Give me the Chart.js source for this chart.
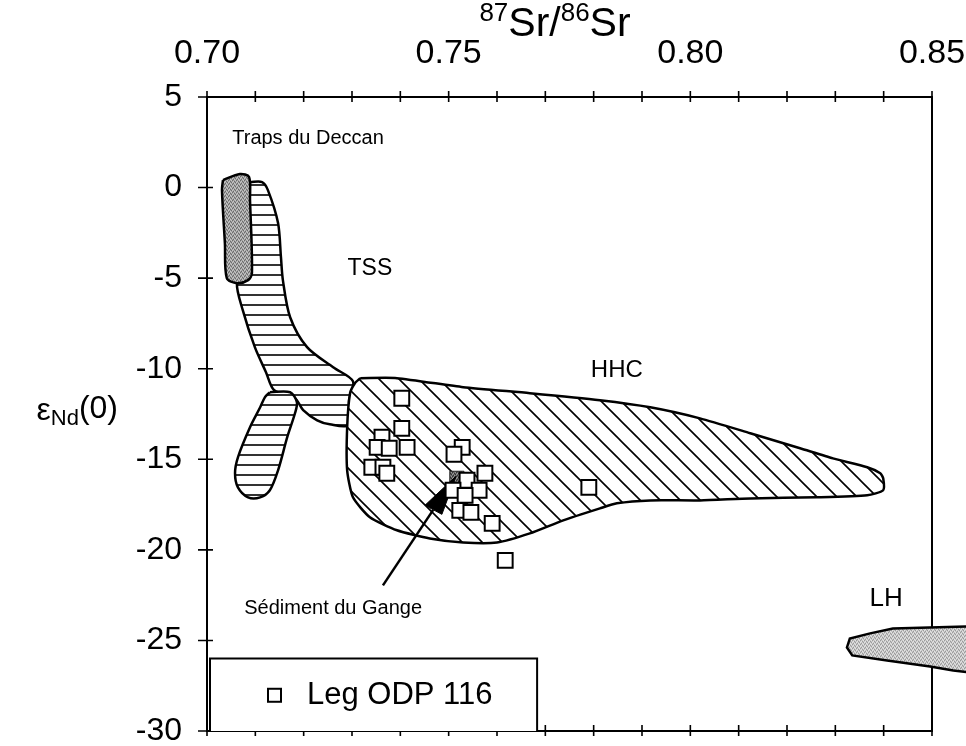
<html>
<head>
<meta charset="utf-8">
<title>Sr-Nd isotopes</title>
<script src="https://cdn.jsdelivr.net/npm/chart.js"></script>
<style>
  body { margin: 0; background: #fff; }
</style>
</head>
<body>
<canvas id="chart" width="966" height="746"></canvas>
<script>
const FONT = "'Liberation Sans', Arial, Helvetica, sans-serif";

// axes
const xMin = 0.70, xMax = 0.85, xMinorStep = 0.01;
const yMin = -30, yMax = 5;
const xTickLabels = [0.70, 0.75, 0.80, 0.85];
const yTickLabels = [5, 0, -5, -10, -15, -20, -25, -30];

// Leg ODP 116 samples
const odpSr = [0.7403, 0.7403, 0.7362, 0.7352, 0.7377, 0.7414, 0.7341, 0.7364, 0.7372,
               0.7528, 0.7511, 0.7575, 0.7538, 0.7563, 0.7509, 0.7534, 0.7523, 0.7546,
               0.7590, 0.7617, 0.7790];
const odpNd = [-11.63, -13.29, -13.78, -14.34, -14.39, -14.34, -15.44, -15.44, -15.77,
               -14.34, -14.72, -15.77, -16.16, -16.71, -16.71, -16.99, -17.82, -17.93,
               -18.54, -20.58, -16.55];

// Ganges sediment
const gangeSr = [0.7517];
const gangeNd = [-16.05];

// fields (outlines)
const deccanSr = [0.7033, 0.7068, 0.7087, 0.7089, 0.7093, 0.7085, 0.7062, 0.7041, 0.7037, 0.7031];
const deccanNd = [0.41, 0.75, 0.58, -0.69, -4.72, -5.11, -5.28, -5.00, -3.07, -0.14];

const tssSr = [0.7089, 0.7114, 0.7126, 0.7147, 0.7153, 0.7157, 0.7172, 0.7207, 0.7261, 0.7302,
               0.7294, 0.7292, 0.7254, 0.7228, 0.7199, 0.7182, 0.7139, 0.7122, 0.7099, 0.7074,
               0.7062, 0.7081, 0.7087];
const tssNd = [0.30, 0.30, -0.14, -1.96, -3.84, -5.11, -7.16, -8.81, -9.92, -10.69,
               -11.74, -13.12, -13.07, -12.85, -12.29, -11.63, -11.19, -10.19, -8.81, -6.77,
               -5.28, -4.56, -0.69];

const tssLobeSr = [0.7130, 0.7172, 0.7186, 0.7182, 0.7166, 0.7147, 0.7130, 0.7110, 0.7085,
                   0.7064, 0.7058, 0.7064, 0.7089, 0.7110, 0.7120];
const tssLobeNd = [-11.30, -11.30, -11.85, -12.46, -13.78, -15.61, -16.71, -17.10, -17.10,
                   -16.55, -15.77, -14.89, -13.23, -12.13, -11.57];

const hhcSr = [0.7317, 0.7393, 0.7530, 0.7668, 0.7813, 0.7917, 0.8020, 0.8124, 0.8227, 0.8295,
               0.8366, 0.8393, 0.8399, 0.8399, 0.8366, 0.8262, 0.8124, 0.8020, 0.7917, 0.7848,
               0.7813, 0.7737, 0.7668, 0.7600, 0.7530, 0.7461, 0.7393, 0.7337, 0.7302, 0.7290,
               0.7290, 0.7296, 0.7306];
const hhcNd = [-10.52, -10.52, -11.02, -11.35, -11.74, -12.13, -12.74, -13.56, -14.39, -14.95,
               -15.44, -15.77, -16.05, -16.71, -16.99, -17.10, -17.16, -17.27, -17.27, -17.43,
               -17.71, -18.37, -19.09, -19.59, -19.59, -19.37, -18.92, -18.20, -17.10, -15.61,
               -13.23, -11.35, -10.80];

const lhSr = [0.8372, 0.8419, 0.8577, 0.8577, 0.8544, 0.8496, 0.8407, 0.8335, 0.8324, 0.8330];
const lhNd = [-24.61, -24.34, -24.23, -26.77, -26.66, -26.44, -26.11, -25.83, -25.39, -24.89];

// arrow to the Ganges sediment
const arrowSr = [0.7364, 0.7468];
const arrowNd = [-21.96, -17.79];
const arrowHeadSr = [0.7515, 0.7451, 0.7486];
const arrowHeadNd = [-15.94, -17.54, -18.04];

// text labels
const fieldNames = ['Traps du Deccan', 'TSS', 'HHC', 'Sédiment du Gange', 'LH'];
const fieldNameSr = [0.7209, 0.7337, 0.7848, 0.7261, 0.8405];
const fieldNameNd = [2.73, -4.45, -10.08, -23.23, -22.68];
const fieldNameSize = [20, 23, 24, 20, 26];
const legendLabel = 'Leg ODP 116';

function pts(xs, ys, close) {
  const p = xs.map((v, i) => ({x: v, y: ys[i]}));
  if (close) p.push({x: xs[0], y: ys[0]});
  return p;
}

function hatch(kind) {
  const s = kind === 'h' ? 10 : 20;
  const c = document.createElement('canvas');
  c.width = s; c.height = s;
  const g = c.getContext('2d');
  g.fillStyle = '#fff'; g.fillRect(0, 0, s, s);
  g.strokeStyle = '#000'; g.lineWidth = 1.6;
  g.beginPath();
  if (kind === 'h') {
    g.moveTo(0, 5); g.lineTo(s, 5);
  } else {
    g.moveTo(-2, -2); g.lineTo(s + 2, s + 2);
    g.moveTo(-2, s - 2); g.lineTo(2, s + 2);
    g.moveTo(s - 2, -2); g.lineTo(s + 2, 2);
  }
  g.stroke();
  return g.createPattern(c, 'repeat');
}

function stipple(base, dark, light) {
  const c = document.createElement('canvas');
  c.width = 4; c.height = 4;
  const g = c.getContext('2d');
  g.fillStyle = base; g.fillRect(0, 0, 4, 4);
  g.fillStyle = dark;
  [[0, 0], [2, 1], [1, 3], [3, 2]].forEach(([i, j]) => g.fillRect(i, j, 1, 1));
  g.fillStyle = light;
  [[1, 1], [3, 0], [0, 2], [2, 3]].forEach(([i, j]) => g.fillRect(i, j, 1, 1));
  return g.createPattern(c, 'repeat');
}

const hPattern = hatch('h');
const dPattern = hatch('d');
const deccanFill = stipple('#a0a0a0', '#6a6a6a', '#c8c8c8');
const lhFill = stipple('#c6c6c6', '#9a9a9a', '#e4e4e4');
const gangeFill = stipple('#666', '#333', '#999');

function field(data, fill, order, tension) {
  return {
    data: data, showLine: true, fill: 'shape', backgroundColor: fill,
    borderColor: '#000', borderWidth: 2.5, pointRadius: 0, tension: tension, order: order
  };
}

// fill drawn by hand for LH so it can run past the frame
const outsideFill = {
  id: 'outsideFill',
  beforeDatasetDraw(chart, args) {
    const ds = chart.data.datasets[args.index];
    if (!ds.outsideFill) return;
    const ctx = chart.ctx;
    ctx.save();
    ctx.beginPath();
    args.meta.dataset.path(ctx);
    ctx.closePath();
    ctx.fillStyle = ds.outsideFill;
    ctx.fill();
    ctx.restore();
  }
};

const decor = {
  id: 'decor',
  beforeDatasetsDraw(chart) {
    const {ctx, chartArea: a, scales: {x, y}} = chart;
    ctx.save();
    ctx.strokeStyle = '#000';
    ctx.lineWidth = 2;
    ctx.strokeRect(a.left, a.top, a.right - a.left, a.bottom - a.top);
    ctx.lineWidth = 1.6;
    ctx.beginPath();
    const n = Math.round((xMax - xMin) / xMinorStep);
    for (let i = 0; i <= n; i++) {
      const px = x.getPixelForValue(xMin + i * xMinorStep);
      ctx.moveTo(px, a.top - 6); ctx.lineTo(px, a.top + 5);
      ctx.moveTo(px, a.bottom - 6); ctx.lineTo(px, a.bottom + 5);
    }
    yTickLabels.forEach(v => {
      const py = y.getPixelForValue(v);
      ctx.moveTo(a.left - 9, py); ctx.lineTo(a.left + 6, py);
    });
    ctx.stroke();
    ctx.restore();
  },
  afterDatasetsDraw(chart) {
    const {ctx, chartArea: a, scales: {x, y}} = chart;
    ctx.save();
    ctx.fillStyle = '#000';
    ctx.textAlign = 'center';
    ctx.textBaseline = 'middle';
    fieldNames.forEach((t, i) => {
      ctx.font = fieldNameSize[i] + 'px ' + FONT;
      ctx.fillText(t, x.getPixelForValue(fieldNameSr[i]), y.getPixelForValue(fieldNameNd[i]));
    });

    // legend box
    const bx = a.left + 3, by = y.getPixelForValue(-26.0), bw = x.getPixelForValue(0.7683) - bx;
    ctx.fillStyle = '#fff';
    ctx.fillRect(bx, by, bw, a.bottom - by);
    ctx.strokeStyle = '#000';
    ctx.lineWidth = 2;
    ctx.beginPath();
    ctx.moveTo(bx, a.bottom); ctx.lineTo(bx, by); ctx.lineTo(bx + bw, by); ctx.lineTo(bx + bw, a.bottom);
    ctx.stroke();
    const my = (by + a.bottom) / 2;
    ctx.strokeRect(bx + 58, my - 6, 13, 13);
    ctx.fillStyle = '#000';
    ctx.font = '31px ' + FONT;
    ctx.textAlign = 'left';
    ctx.fillText(legendLabel, bx + 97, my + 1);

    // x title 87Sr/86Sr
    ctx.textBaseline = 'alphabetic';
    const parts = [['87', 26, 21], ['Sr/', 41, 36], ['86', 26, 21], ['Sr', 41, 36]];
    let w = 0;
    parts.forEach(p => { ctx.font = p[1] + 'px ' + FONT; w += ctx.measureText(p[0]).width; });
    let cx = 555 - w / 2;
    parts.forEach(p => {
      ctx.font = p[1] + 'px ' + FONT;
      ctx.fillText(p[0], cx, p[2]);
      cx += ctx.measureText(p[0]).width;
    });

    // y title eNd(0), right edge at x=118
    const yParts = [['\u03B5', 32, 420], ['Nd', 22, 425], ['(0)', 32, 418]];
    w = 0;
    yParts.forEach(p => { ctx.font = p[1] + 'px ' + FONT; w += ctx.measureText(p[0]).width; });
    cx = 118 - w;
    yParts.forEach(p => {
      ctx.font = p[1] + 'px ' + FONT;
      ctx.fillText(p[0], cx, p[2]);
      cx += ctx.measureText(p[0]).width;
    });
    ctx.restore();
  }
};

new Chart(document.getElementById('chart'), {
  type: 'scatter',
  data: {
    datasets: [
      { data: pts(odpSr, odpNd), pointStyle: 'rect', pointRadius: 10.5, pointBorderWidth: 2,
        pointBackgroundColor: '#fff', pointBorderColor: '#000', showLine: false, order: 0 },
      { data: pts(arrowHeadSr, arrowHeadNd, true), showLine: true, fill: 'shape',
        backgroundColor: '#000', borderColor: '#000', borderWidth: 1, pointRadius: 0, order: 1 },
      { data: pts(arrowSr, arrowNd), showLine: true, borderColor: '#000', borderWidth: 2.5,
        pointRadius: 0, order: 2 },
      { data: pts(gangeSr, gangeNd), pointStyle: 'rect', pointRadius: 10, pointBorderWidth: 1,
        pointBackgroundColor: gangeFill, pointBorderColor: '#222', showLine: false, order: 3 },
      { data: pts(lhSr, lhNd, true), showLine: true, fill: false, outsideFill: lhFill,
        borderColor: '#000', borderWidth: 2.5, pointRadius: 0, tension: 0, clip: false, order: 4 },
      field(pts(deccanSr, deccanNd, true), deccanFill, 5, 0.3),
      field(pts(tssLobeSr, tssLobeNd, true), hPattern, 6, 0.3),
      field(pts(hhcSr, hhcNd, true), dPattern, 7, 0.2),
      field(pts(tssSr, tssNd, true), hPattern, 8, 0.3)
    ]
  },
  options: {
    responsive: false,
    devicePixelRatio: 1,
    animation: false,
    events: [],
    layout: { padding: { left: 0, top: 0, right: 34, bottom: 15 } },
    plugins: { legend: { display: false }, tooltip: { enabled: false } },
    scales: {
      x: {
        type: 'linear', position: 'top', min: xMin, max: xMax,
        afterBuildTicks: s => { s.ticks = xTickLabels.map(v => ({value: v})); },
        afterFit: s => { s.height = 97; s.paddingLeft = 0; s.paddingRight = 0; },
        ticks: { color: '#000', font: { family: FONT, size: 34 }, padding: 15,
                 callback: v => v.toFixed(2) },
        grid: { display: false }, border: { display: false }
      },
      y: {
        type: 'linear', min: yMin, max: yMax,
        afterBuildTicks: s => { s.ticks = yTickLabels.map(v => ({value: v})); },
        afterFit: s => { s.width = 207; s.paddingTop = 0; s.paddingBottom = 0; },
        ticks: { color: '#000', font: { family: FONT, size: 32 }, padding: 17 },
        grid: { display: false }, border: { display: false }
      }
    }
  },
  plugins: [outsideFill, decor]
});
</script>
</body>
</html>
